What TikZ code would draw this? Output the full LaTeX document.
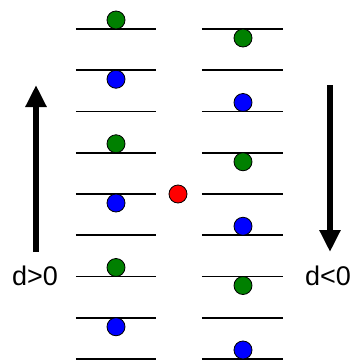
\documentclass[tikz,border=0pt]{standalone}
\usepackage{fontspec}
\setmainfont{Liberation Sans}
\usepackage{tikz}
\usetikzlibrary{arrows.meta}
\definecolor{dotgreen}{RGB}{0,128,0}
\definecolor{dotblue}{RGB}{0,0,255}
\definecolor{dotred}{RGB}{255,0,0}

\begin{document}
\begin{tikzpicture}[x=1pt,y=-1pt]
		 \tikzstyle{dot}=[draw=black,line width=0.8pt,shape=circle,minimum size=18pt,inner sep=0pt]
		 \tikzstyle{level}=[line width=1.6pt]
		 \tikzstyle{dshift}=[line width=6pt,-{Triangle[width=20pt,length=22pt]}]
		 \tikzstyle{lbl}=[anchor=base,inner sep=0pt,font=\fontsize{27}{30}\selectfont]
		\useasboundingbox (0,0) rectangle (355,360);

		% levels
		\foreach \i in {0,...,8}
		  {\draw[level] (76,29+41.25*\i) -- (156,29+41.25*\i);
		   \draw[level] (202,29+41.25*\i) -- (283,29+41.25*\i);}

		% left column
		  \node[dot,fill=dotgreen] (g1) at (116,20)     {};
		  \node[dot,fill=dotblue]  (b1) at (116,79.25)  {};
		  \node[dot,fill=dotgreen] (g2) at (116,143.75) {};
		  \node[dot,fill=dotblue]  (b2) at (116,203)    {};
		  \node[dot,fill=dotgreen] (g3) at (116,267.5)  {};
		  \node[dot,fill=dotblue]  (b3) at (116,326.75) {};

		% right column
		  \node[dot,fill=dotgreen] (g4) at (243,38)     {};
		  \node[dot,fill=dotblue]  (b4) at (243,102.5)  {};
		  \node[dot,fill=dotgreen] (g5) at (243,161.75) {};
		  \node[dot,fill=dotblue]  (b5) at (243,226.25) {};
		  \node[dot,fill=dotgreen] (g6) at (243,285.5)  {};
		  \node[dot,fill=dotblue]  (b6) at (243,350)    {};

		  \node[dot,fill=dotred]   (r)  at (178,194)    {};

		% shifts
		  \node[lbl] (dpos) at (35,285)  {d>0};
		  \node[lbl] (dneg) at (328,285) {d<0};
		  \coordinate (up1) at (36,252);
		  \coordinate (up2) at (36,85);
		  \coordinate (dn1) at (330,85);
		  \coordinate (dn2) at (330,252);
		  \draw[dshift] (up1) -- (up2);
		  \draw[dshift] (dn1) -- (dn2);

		\end{tikzpicture}
\end{document}
